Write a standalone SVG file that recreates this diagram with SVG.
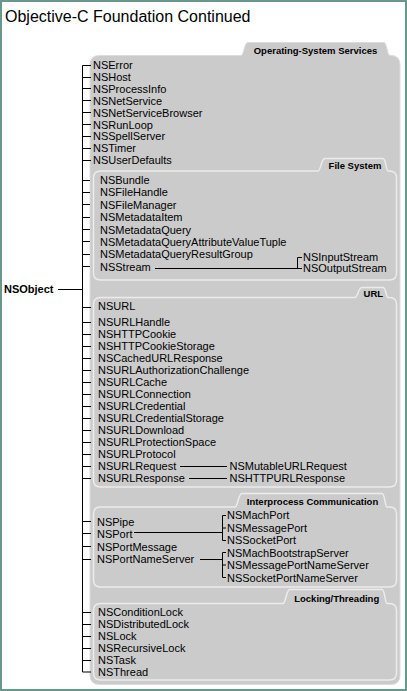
<svg xmlns="http://www.w3.org/2000/svg" width="407" height="691" viewBox="0 0 407 691">
<style>
.t{font-family:"Liberation Sans",Arial,sans-serif;font-size:11px;fill:#000}
.b{font-weight:bold}
.tab{font-family:"Liberation Sans",Arial,sans-serif;font-size:9.5px;font-weight:bold;fill:#000;text-anchor:middle}
.ln{stroke:#000;stroke-width:1;fill:none}
.outer{fill:#cbcbcb;stroke:#dcdcdc;stroke-width:1}
.inner{fill:#cbcbcb;stroke:#ececec;stroke-width:1.5}
</style>
<rect x="1" y="1" width="405" height="689" fill="#fff" stroke="#6b968c" stroke-width="2"/>
<text x="5" y="22" style="font-family:'Liberation Sans',Arial,sans-serif;font-size:16px">Objective-C Foundation Continued</text>

<g id="panels">
<path class="outer" d="M90,65 Q90,55.5 99.5,55.5 H241 C244,55.5 244,42.5 248,42.5 H384 C387,42.5 387,55.5 390,55.5 H391 Q400,55.5 400,65 V675 Q400,684.5 391,684.5 H99.5 Q90,684.5 90,675 Z"/>
<path class="inner" d="M93.5,178 Q93.5,171 100.5,171 H318 C321,171 321,158.5 325,158.5 H383 C386,158.5 386,171 388,171 H389.5 Q396.5,171 396.5,178 V273 Q396.5,280 389.5,280 H100.5 Q93.5,280 93.5,273 Z"/>
<path class="inner" d="M93.5,304.5 Q93.5,297.5 100.5,297.5 H355 C358,297.5 358,287.5 362,287.5 H383 C386,287.5 386,297.5 388,297.5 H389.5 Q396.5,297.5 396.5,304.5 V480 Q396.5,487 389.5,487 H100.5 Q93.5,487 93.5,480 Z"/>
<path class="inner" d="M93.5,514 Q93.5,507 100.5,507 H235 C238,507 238,493.5 242,493.5 H382 C385,493.5 385,507 387,507 H389.5 Q396.5,507 396.5,514 V580 Q396.5,587 389.5,587 H100.5 Q93.5,587 93.5,580 Z"/>
<path class="inner" d="M93.5,610.5 Q93.5,603.5 100.5,603.5 H283 C286,603.5 286,589.5 290,589.5 H382 C385,589.5 385,603.5 387,603.5 H389.5 Q396.5,603.5 396.5,610.5 V673 Q396.5,680 389.5,680 H100.5 Q93.5,680 93.5,673 Z"/>
<text class="tab" x="315.5" y="54">Operating-System Services</text>
<text class="tab" x="355" y="168.5">File System</text>
<text class="tab" x="373.3" y="297">URL</text>
<text class="tab" x="312.5" y="505">Interprocess Communication</text>
<text class="tab" x="336.7" y="601.7">Locking/Threading</text>
</g>

<g id="connectors">
<path class="ln" d="M58,289.5 H82.5 M82.5,65.5 V672 M82.5,65.5 H91 M82.5,77.5 H91 M82.5,88.5 H91 M82.5,100.5 H91 M82.5,112.5 H91 M82.5,124.5 H91 M82.5,136.5 H91 M82.5,148.5 H91 M82.5,160.5 H91"/>
<path class="ln" d="M82.5,180.5 H90 M82.5,192.5 H90 M82.5,204.5 H90 M82.5,217.5 H90 M82.5,229.5 H90 M82.5,241.5 H90 M82.5,254.5 H90 M82.5,266.5 H90"/>
<path class="ln" d="M155,268.5 H302 M297.5,257.5 V268.5 M297.5,257.5 H302"/>
<path class="ln" d="M82.5,307.5 H91 M82.5,322.5 H91 M82.5,334.5 H91 M82.5,346.5 H91 M82.5,358.5 H91 M82.5,370.5 H91 M82.5,382.5 H91 M82.5,394.5 H91 M82.5,406.5 H91 M82.5,418.5 H91 M82.5,430.5 H91 M82.5,442.5 H91 M82.5,454.5 H91 M82.5,466.5 H91 M82.5,478.5 H91"/>
<path class="ln" d="M180,466.5 H227 M189,478.5 H227"/>
<path class="ln" d="M82.5,521.5 H91 M82.5,533.5 H91 M82.5,546.5 H91 M82.5,559.5 H91"/>
<path class="ln" d="M134,532.5 H222 M222.5,515.5 V540.5 M222.5,515.5 H226 M222.5,528 H226 M222.5,540.5 H226"/>
<path class="ln" d="M200,559.5 H222 M222.5,552.5 V577.5 M222.5,552.5 H226 M222.5,565 H226 M222.5,577.5 H226"/>
<path class="ln" d="M82.5,612.5 H91 M82.5,624.5 H91 M82.5,636.5 H91 M82.5,648.5 H91 M82.5,660.5 H91 M82.5,672 H91"/>
</g>

<g id="n-NSObject"><text class="t b" x="4" y="293">NSObject</text></g>

<g id="n-NSError"><text class="t" x="93" y="69">NSError</text></g>
<g id="n-NSHost"><text class="t" x="93" y="80.9">NSHost</text></g>
<g id="n-NSProcessInfo"><text class="t" x="93" y="92.8">NSProcessInfo</text></g>
<g id="n-NSNetService"><text class="t" x="93" y="104.7">NSNetService</text></g>
<g id="n-NSNetServiceBrowser"><text class="t" x="93" y="116.6">NSNetServiceBrowser</text></g>
<g id="n-NSRunLoop"><text class="t" x="93" y="128.5">NSRunLoop</text></g>
<g id="n-NSSpellServer"><text class="t" x="93" y="140.4">NSSpellServer</text></g>
<g id="n-NSTimer"><text class="t" x="93" y="152.3">NSTimer</text></g>
<g id="n-NSUserDefaults"><text class="t" x="93" y="164.2">NSUserDefaults</text></g>

<g id="n-NSBundle"><text class="t" x="100" y="184">NSBundle</text></g>
<g id="n-NSFileHandle"><text class="t" x="100" y="196.4">NSFileHandle</text></g>
<g id="n-NSFileManager"><text class="t" x="100" y="208.8">NSFileManager</text></g>
<g id="n-NSMetadataItem"><text class="t" x="100" y="221.1">NSMetadataItem</text></g>
<g id="n-NSMetadataQuery"><text class="t" x="100" y="233.5">NSMetadataQuery</text></g>
<g id="n-NSMetadataQueryAttributeValueTuple"><text class="t" x="100" y="245.9">NSMetadataQueryAttributeValueTuple</text></g>
<g id="n-NSMetadataQueryResultGroup"><text class="t" x="100" y="258.3">NSMetadataQueryResultGroup</text></g>
<g id="n-NSStream"><text class="t" x="100" y="270.7">NSStream</text></g>
<g id="n-NSInputStream"><text class="t" x="303" y="261">NSInputStream</text></g>
<g id="n-NSOutputStream"><text class="t" x="303" y="272">NSOutputStream</text></g>

<g id="n-NSURL"><text class="t" x="98" y="310">NSURL</text></g>
<g id="n-NSURLHandle"><text class="t" x="98" y="325.7">NSURLHandle</text></g>
<g id="n-NSHTTPCookie"><text class="t" x="98" y="337.8">NSHTTPCookie</text></g>
<g id="n-NSHTTPCookieStorage"><text class="t" x="98" y="349.8">NSHTTPCookieStorage</text></g>
<g id="n-NSCachedURLResponse"><text class="t" x="98" y="361.9">NSCachedURLResponse</text></g>
<g id="n-NSURLAuthorizationChallenge"><text class="t" x="98" y="373.9">NSURLAuthorizationChallenge</text></g>
<g id="n-NSURLCache"><text class="t" x="98" y="386">NSURLCache</text></g>
<g id="n-NSURLConnection"><text class="t" x="98" y="398">NSURLConnection</text></g>
<g id="n-NSURLCredential"><text class="t" x="98" y="410.1">NSURLCredential</text></g>
<g id="n-NSURLCredentialStorage"><text class="t" x="98" y="422.1">NSURLCredentialStorage</text></g>
<g id="n-NSURLDownload"><text class="t" x="98" y="434.2">NSURLDownload</text></g>
<g id="n-NSURLProtectionSpace"><text class="t" x="98" y="446.2">NSURLProtectionSpace</text></g>
<g id="n-NSURLProtocol"><text class="t" x="98" y="458.3">NSURLProtocol</text></g>
<g id="n-NSURLRequest"><text class="t" x="98" y="470.3">NSURLRequest</text></g>
<g id="n-NSURLResponse"><text class="t" x="98" y="482.3">NSURLResponse</text></g>
<g id="n-NSMutableURLRequest"><text class="t" x="229.5" y="470.3">NSMutableURLRequest</text></g>
<g id="n-NSHTTPURLResponse"><text class="t" x="229.5" y="482.3">NSHTTPURLResponse</text></g>

<g id="n-NSPipe"><text class="t" x="97" y="525.7">NSPipe</text></g>
<g id="n-NSPort"><text class="t" x="97" y="537.5">NSPort</text></g>
<g id="n-NSPortMessage"><text class="t" x="97" y="550.5">NSPortMessage</text></g>
<g id="n-NSPortNameServer"><text class="t" x="97" y="563">NSPortNameServer</text></g>
<g id="n-NSMachPort"><text class="t" x="227" y="519">NSMachPort</text></g>
<g id="n-NSMessagePort"><text class="t" x="227" y="531.5">NSMessagePort</text></g>
<g id="n-NSSocketPort"><text class="t" x="227" y="544">NSSocketPort</text></g>
<g id="n-NSMachBootstrapServer"><text class="t" x="227" y="556.5">NSMachBootstrapServer</text></g>
<g id="n-NSMessagePortNameServer"><text class="t" x="227" y="569">NSMessagePortNameServer</text></g>
<g id="n-NSSocketPortNameServer"><text class="t" x="227" y="581.5">NSSocketPortNameServer</text></g>

<g id="n-NSConditionLock"><text class="t" x="98" y="616.3">NSConditionLock</text></g>
<g id="n-NSDistributedLock"><text class="t" x="98" y="628.2">NSDistributedLock</text></g>
<g id="n-NSLock"><text class="t" x="98" y="640">NSLock</text></g>
<g id="n-NSRecursiveLock"><text class="t" x="98" y="651.9">NSRecursiveLock</text></g>
<g id="n-NSTask"><text class="t" x="98" y="663.8">NSTask</text></g>
<g id="n-NSThread"><text class="t" x="98" y="675.7">NSThread</text></g>
</svg>
